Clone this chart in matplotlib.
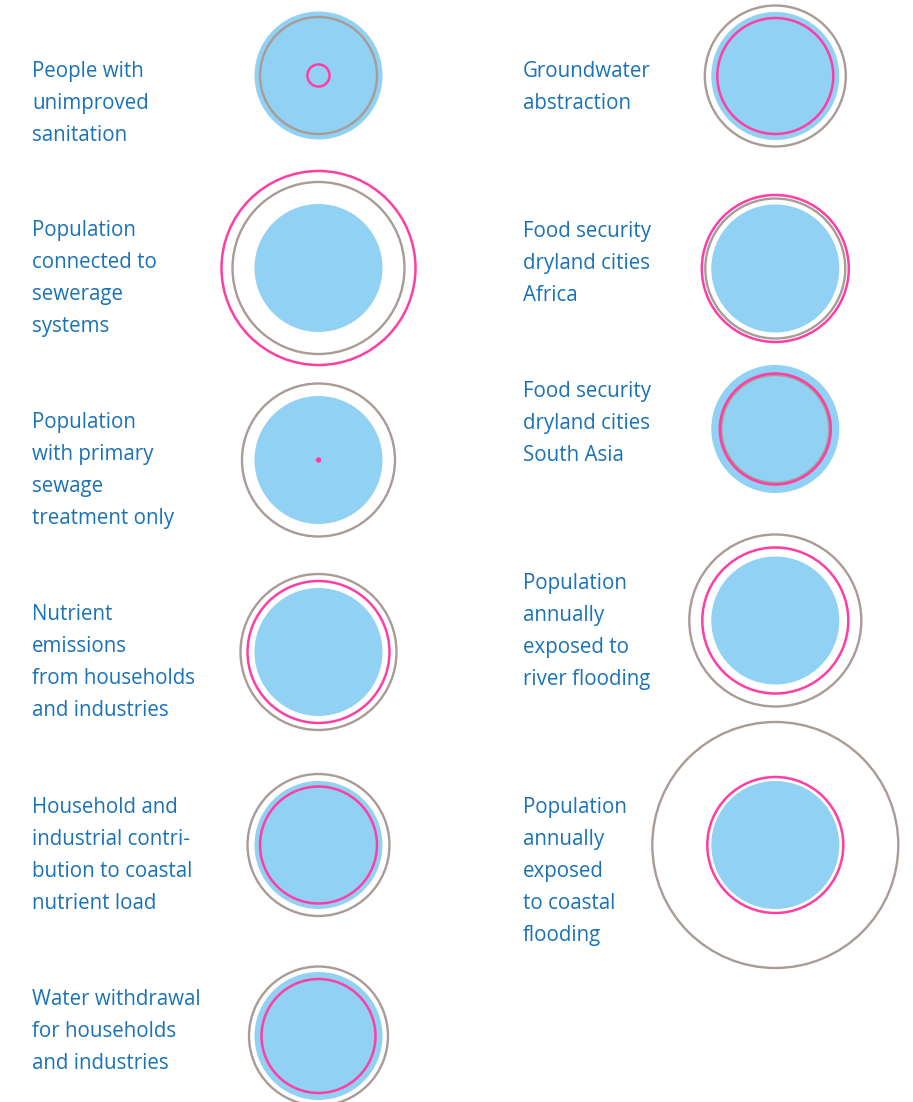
import numpy as np
import matplotlib
matplotlib.use("Agg")
import matplotlib.pyplot as plt
from matplotlib.patches import Circle

# labels, left column then right column
labels_left = [
    "People with\nunimproved\nsanitation",
    "Population\nconnected to\nsewerage\nsystems",
    "Population\nwith primary\nsewage\ntreatment only",
    "Nutrient\nemissions\nfrom households\nand industries",
    "Household and\nindustrial contri-\nbution to coastal\nnutrient load",
    "Water withdrawal\nfor households\nand industries",
]
labels_right = [
    "Groundwater\nabstraction",
    "Food security\ndryland cities\nAfrica",
    "Food security\ndryland cities\nSouth Asia",
    "Population\nannually\nexposed to\nriver flooding",
    "Population\nannually\nexposed\nto coastal\nflooding",
]

# index values (baseline = 100, circle area proportional to value)
brown_left = [83.5, 180.6, 142.9, 148.5, 123.0, 117.9]
pink_left = [3.0, 229.7, 0.05, 123.0, 83.5, 79.3]
brown_right = [121.3, 119.6, 71.2, 180.6, 369.3]
pink_right = [82.1, 131.9, 75.2, 130.1, 112.9]

BLUE = "#91d1f3"
BROWN = "#a99b95"
PINK = "#ff3ea5"
TEXT = "#1a72b9"

W, H = 913, 1102
fig = plt.figure(figsize=(W / 100, H / 100), dpi=100)
ax = fig.add_axes([0, 0, 1, 1])
ax.set_xlim(0, W)
ax.set_ylim(H, 0)
ax.set_aspect("equal")
ax.axis("off")

R0 = 64  # radius of the baseline circle

def draw_item(cx, cy, label, brown, pink, tx, ty):
    ax.add_patch(Circle((cx, cy), R0, facecolor=BLUE, edgecolor="none"))
    ax.add_patch(Circle((cx, cy), R0 * np.sqrt(brown / 100), fill=False,
                        edgecolor=BROWN, lw=1.7))
    ax.add_patch(Circle((cx, cy), R0 * np.sqrt(pink / 100), fill=False,
                        edgecolor=PINK, lw=1.8))
    for i, line in enumerate(label.split("\n")):
        ax.text(tx, ty + i * 32, line, color=TEXT, fontsize=14.8,
                family="Open Sans", va="baseline", ha="left")

left_cy = [75.5, 268, 460, 652, 845, 1036]
left_ty = [77, 236, 428, 620, 813, 1005]
right_cy = [76, 268.5, 429, 620.5, 845]
right_ty = [77, 237, 397, 589, 813]

for lab, b, p, cy, ty in zip(labels_left, brown_left, pink_left, left_cy, left_ty):
    draw_item(318.5, cy, lab, b, p, 32, ty)
for lab, b, p, cy, ty in zip(labels_right, brown_right, pink_right, right_cy, right_ty):
    draw_item(775.3, cy, lab, b, p, 523, ty)

fig.savefig("out.png", dpi=100)
